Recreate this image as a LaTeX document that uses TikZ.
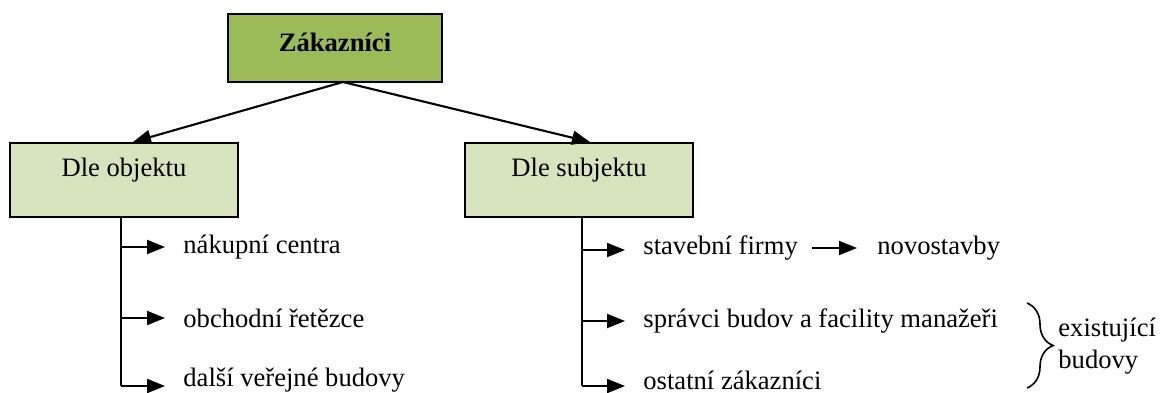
\documentclass[tikz,border=0pt]{standalone}
\usepackage{fontspec}
\setmainfont{Liberation Serif}
\usetikzlibrary{arrows.meta,decorations.pathreplacing}
\definecolor{topgreen}{HTML}{9BBB59}
\definecolor{subgreen}{HTML}{D7E4BD}
\tikzset{
  topbox/.style={draw=black, line width=1.1pt, fill=topgreen, minimum width=107pt, minimum height=34pt, inner sep=0pt},
  subbox/.style={draw=black, line width=1pt, fill=subgreen, minimum width=114pt, minimum height=37pt, inner sep=0pt},
  txt/.style={font=\fontsize{13.3}{16}\selectfont, inner sep=0pt},
  item/.style={txt, anchor=west},
  conn/.style={line width=1.05pt, -{Triangle[length=9pt,width=7pt]}},
  stem/.style={line width=1.05pt},
}
\begin{document}
\begin{tikzpicture}[x=0.5pt,y=-0.5pt]
\useasboundingbox (0,0) rectangle (1172,392);
% boxes
\node[topbox] (top) at (335,48) {};
\node[txt, font=\fontsize{13.3}{16}\selectfont\bfseries] (toptxt) at (335,42) {Zákazníci};
\node[subbox] (obj) at (124,180) {};
\node[txt] (objtxt) at (124,170) {Dle objektu};
\node[subbox] (sub) at (579,180) {};
\node[txt] (subtxt) at (579,170) {Dle subjektu};
% top connectors
\coordinate (tp) at (343,82);
\draw[conn] (tp) -- ([xshift=4.5pt]obj.north);
\draw[conn] (tp) -- ([xshift=5.5pt]sub.north);
% left branch
\coordinate (ls) at (121,217);
\coordinate (l1) at (121,247);
\coordinate (l2) at (121,318);
\coordinate (l3) at (121,386);
\node[item] (a1) at (183,247) {nákupní centra};
\node[item] (a2) at (183,318) {obchodní řetězce};
\node[item] (a3) at (183,380) {další veřejné budovy};
\draw[stem] (ls) -- (l3);
\draw[conn] (l1) -- ([xshift=-9pt]a1.west);
\draw[conn] (l2) -- ([xshift=-9pt]a2.west);
\draw[conn] (l3) -- ([xshift=-9pt]a3.west |- l3);
% right branch
\coordinate (rs) at (582,217);
\coordinate (r1) at (582,250);
\coordinate (r2) at (582,321);
\coordinate (r3) at (582,386);
\node[item] (b1) at (643,248) {stavební firmy};
\node[item] (b2) at (643,321) {správci budov a facility manažeři};
\node[item] (b3) at (643,380) {ostatní zákazníci};
\draw[stem] (rs) -- (r3);
\draw[conn] (r1) -- ([xshift=-9pt]b1.west |- r1);
\draw[conn] (r2) -- ([xshift=-9pt]b2.west);
\draw[conn] (r3) -- ([xshift=-9pt]b3.west |- r3);
\node[item] (nov) at (877,248) {novostavby};
\draw[conn] ([xshift=7pt]b1.east) -- ([xshift=-10pt]nov.west);
% brace
\coordinate (bt) at (1027,303);
\coordinate (bb) at (1027,388);
\draw[line width=0.8pt, decorate, decoration={brace, amplitude=13pt}] (bt) -- (bb);
\node[item] (ex1) at (1058,330) {existující};
\node[item] (ex2) at (1058,362) {budovy};
\end{tikzpicture}
\end{document}
